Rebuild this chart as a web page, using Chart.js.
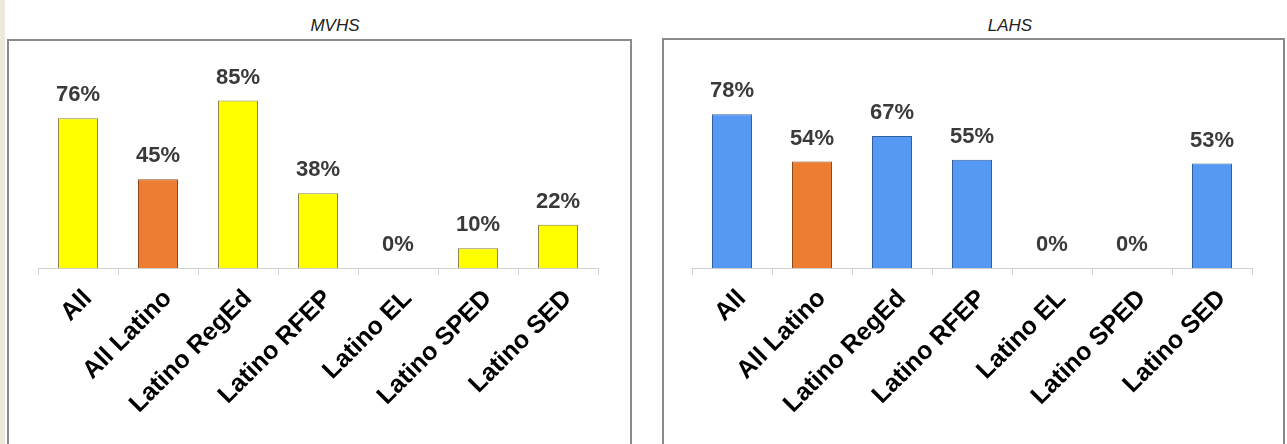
<!DOCTYPE html>
<html>
<head>
<meta charset="utf-8">
<script src="https://cdn.jsdelivr.net/npm/chart.js@4/dist/chart.umd.min.js"></script>
<style>
  html, body { margin: 0; padding: 0; }
  body { width: 1287px; height: 444px; background: #ffffff; position: relative; overflow: hidden;
         font-family: "Liberation Sans", Arial, sans-serif; }
  .strip { position: absolute; left: 0; top: 0; width: 5px; height: 444px; background: #ebe8dc; }
  .panel { position: absolute; border: 2px solid #8a8a8a; background: #ffffff; box-sizing: border-box; }
  .sub { position: absolute; font-style: italic; font-size: 17px; color: #222; transform: translateX(-50%); }
  canvas { position: absolute; }
</style>
</head>
<body>
<div class="strip"></div>
<div class="panel" style="left:7px; top:39px; width:625px; height:420px;"></div>
<div class="panel" style="left:662px; top:38px; width:623px; height:420px;"></div>
<div class="sub" style="left:335px; top:16px;">MVHS</div>
<div class="sub" style="left:1010px; top:16px;">LAHS</div>
<canvas id="mvhs" width="624" height="404" style="left:7px; top:40px;"></canvas>
<canvas id="lahs" width="622" height="404" style="left:662px; top:40px;"></canvas>
<script>
const categories = ["All", "All Latino", "Latino RegEd", "Latino RFEP", "Latino EL", "Latino SPED", "Latino SED"];
const mvhsValues = [76, 45, 85, 38, 0, 10, 22];
const lahsValues = [78, 54, 67, 55, 0, 0, 53];

const YELLOW = "#FFFF00", YELLOW_EDGE = "#8c8646";
const ORANGE = "#ED7D31", ORANGE_EDGE = "#8a4a1e";
const BLUE = "#5599F5", BLUE_EDGE = "#2f5f9f";

// value text above every bar
const valueLabels = {
  id: "valueLabels",
  afterDatasetsDraw(chart) {
    const ctx = chart.ctx;
    const meta = chart.getDatasetMeta(0);
    const data = chart.data.datasets[0].data;
    ctx.save();
    ctx.font = "bold 22px 'Liberation Sans', Arial, sans-serif";
    ctx.fillStyle = "#3a3a3a";
    ctx.textAlign = "center";
    ctx.textBaseline = "bottom";
    meta.data.forEach((bar, i) => {
      ctx.fillText(data[i] + "%", bar.x, bar.y - 12);
    });
    ctx.restore();
  }
};

function makeChart(id, values, base, baseEdge, padLeft, padRight) {
  const fills = values.map((v, i) => i === 1 ? ORANGE : base);
  const edges = values.map((v, i) => i === 1 ? ORANGE_EDGE : baseEdge);
  return new Chart(document.getElementById(id), {
    type: "bar",
    data: {
      labels: categories,
      datasets: [{
        data: values,
        backgroundColor: fills,
        borderColor: edges,
        borderWidth: 1,
        barPercentage: 0.5,
        categoryPercentage: 1.0
      }]
    },
    options: {
      responsive: false,
      animation: false,
      devicePixelRatio: 1,
      layout: { padding: { left: padLeft, right: padRight, top: 31, bottom: 0 } },
      plugins: { legend: { display: false }, tooltip: { enabled: false } },
      scales: {
        y: { display: false, min: 0, max: 100 },
        x: {
          afterFit(scale) { scale.height = 176; },
          grid: { display: true, drawOnChartArea: false, offset: true, tickLength: 7, color: "#cfcfcf" },
          border: { display: true, color: "#cfcfcf", width: 1 },
          ticks: {
            minRotation: 45, maxRotation: 45, autoSkip: false,
            padding: 9, labelOffset: 10,
            color: "#000000",
            font: { family: "'Liberation Sans', Arial, sans-serif", size: 25, weight: "bold" }
          }
        }
      }
    },
    plugins: [valueLabels]
  });
}

makeChart("mvhs", mvhsValues, YELLOW, YELLOW_EDGE, 31, 33);
makeChart("lahs", lahsValues, BLUE, BLUE_EDGE, 30, 32);
</script>
</body>
</html>
